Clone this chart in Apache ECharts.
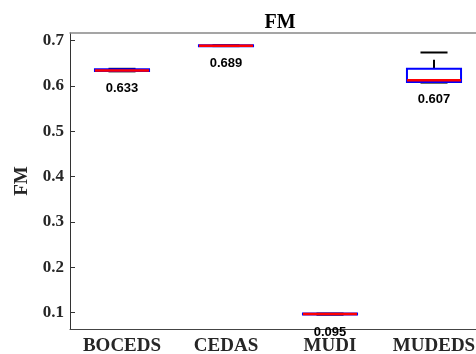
<!DOCTYPE html>
<html>
<head>
<meta charset="utf-8">
<script src="https://cdn.jsdelivr.net/npm/echarts@6/dist/echarts.min.js"></script>
<style>html,body{margin:0;padding:0;background:#fff;}#c{width:476px;height:354px;}</style>
</head>
<body>
<div id="c"></div>
<script>
var categories = ['BOCEDS', 'CEDAS', 'MUDI', 'MUDEDS'];
// [min, q1, median, q3, max]
var boxMin    = [0.632, 0.688, 0.095, 0.607];
var boxQ1     = [0.633, 0.688, 0.096, 0.609];
var boxMedian = [0.634, 0.689, 0.097, 0.613];
var boxQ3     = [0.637, 0.690, 0.098, 0.638];
var boxMax    = [0.638, 0.690, 0.098, 0.674];
var labelValues = ['0.633', '0.689', '0.095', '0.607'];
var yTicks = [0.1, 0.2, 0.3, 0.4, 0.5, 0.6, 0.7];

var data = categories.map(function (c, i) {
  return [i, boxMin[i], boxQ1[i], boxMedian[i], boxQ3[i], boxMax[i]];
});

var chart = echarts.init(document.getElementById('c'), null, {renderer: 'canvas'});

function renderItem(params, api) {
  var x = api.value(0);
  var band = api.size([1, 0])[0];
  var w = band * 0.52;
  var cw = w * 0.5;
  var pMin = api.coord([x, api.value(1)]);
  var pQ1 = api.coord([x, api.value(2)]);
  var pMed = api.coord([x, api.value(3)]);
  var pQ3 = api.coord([x, api.value(4)]);
  var pMax = api.coord([x, api.value(5)]);
  var cx = pMed[0];
  var i = params.dataIndex;
  var children = [];
  // whiskers
  children.push({type: 'line', shape: {x1: cx, y1: pQ3[1], x2: cx, y2: pMax[1]},
    style: {stroke: '#000', lineWidth: 2, lineDash: [9, 7]}});
  children.push({type: 'line', shape: {x1: cx, y1: pQ1[1], x2: cx, y2: pMin[1]},
    style: {stroke: '#000', lineWidth: 2, lineDash: [9, 7]}});
  children.push({type: 'line', shape: {x1: cx - cw / 2, y1: pMax[1], x2: cx + cw / 2, y2: pMax[1]},
    style: {stroke: '#000', lineWidth: 2}});
  children.push({type: 'line', shape: {x1: cx - cw / 2, y1: pMin[1], x2: cx + cw / 2, y2: pMin[1]},
    style: {stroke: '#555', lineWidth: 2}});
  // box
  children.push({type: 'rect', shape: {x: cx - w / 2, y: pQ3[1], width: w, height: Math.max(pQ1[1] - pQ3[1], 0.5)},
    style: {fill: 'rgba(255,255,255,0)', stroke: '#0000ff', lineWidth: 2}});
  // median
  children.push({type: 'line', shape: {x1: cx - w / 2, y1: pMed[1], x2: cx + w / 2, y2: pMed[1]},
    style: {stroke: '#ff0000', lineWidth: 2.5}});
  // label
  children.push({type: 'text', x: cx, y: pMin[1] + 17,
    style: {text: labelValues[i], fill: '#000', font: 'bold 13px "Liberation Sans", Arial, sans-serif',
      align: 'center', verticalAlign: 'middle'}, z2: 100});
  return {type: 'group', children: children};
}

var serifFont = '"Liberation Serif", "Times New Roman", serif';

chart.setOption({
  animation: false,
  title: {
    text: 'FM', left: 275, top: 8, textAlign: 'center',
    textStyle: {fontFamily: serifFont, fontWeight: 'bold', fontSize: 20, color: '#000'}
  },
  grid: {left: 70, top: 33, right: -10, bottom: 25, show: false, containLabel: false, outerBoundsMode: 'none'},
  xAxis: [{
    type: 'category', data: categories, position: 'bottom',
    axisLine: {lineStyle: {color: '#444', width: 1}},
    axisTick: {inside: true, alignWithLabel: true, length: 5, lineStyle: {color: '#444'}},
    axisLabel: {interval: 0, hideOverlap: false, fontFamily: serifFont, fontWeight: 'bold', fontSize: 19, color: '#262626', margin: 8},
    splitLine: {show: false}
  }, {
    type: 'category', data: categories, position: 'top',
    axisLine: {lineStyle: {color: '#888', width: 1.5}},
    axisTick: {inside: true, alignWithLabel: true, length: 5, lineStyle: {color: '#444'}},
    axisLabel: {show: false}, splitLine: {show: false}
  }],
  yAxis: {
    type: 'value', min: 0.064, max: 0.717,
    name: 'FM', nameLocation: 'middle', nameGap: 36, nameRotate: 90,
    nameTextStyle: {fontFamily: serifFont, fontWeight: 'bold', fontSize: 19, color: '#262626'},
    axisLine: {show: true, lineStyle: {color: '#333', width: 1}},
    axisTick: {show: true, inside: true, length: 5, customValues: yTicks, lineStyle: {color: '#333'}},
    axisLabel: {customValues: yTicks, fontFamily: serifFont, fontWeight: 'bold', fontSize: 17, color: '#262626', margin: 6,
      formatter: function (v) { return v.toFixed(1); }},
    splitLine: {show: false}
  },
  series: [{
    type: 'custom', xAxisIndex: 0, renderItem: renderItem, data: data,
    encode: {x: 0, y: [1, 2, 3, 4, 5]}, clip: false
  }]
});
</script>
</body>
</html>
